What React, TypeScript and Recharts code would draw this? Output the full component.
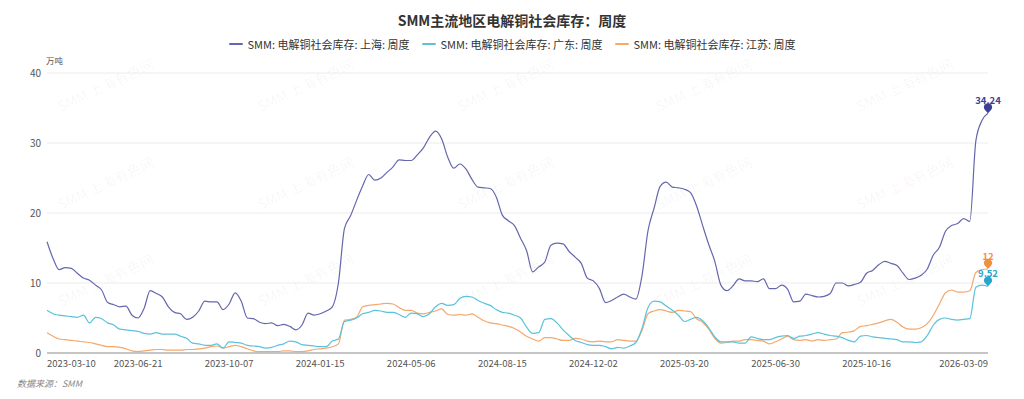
import React from "react";
import { LineChart, Line, XAxis, YAxis, CartesianGrid } from "recharts";

// weekly readings, 万吨
const shanghai = [
  15.9, 13.5, 11.9, 12.2, 12.1, 11.4, 10.7, 10.4, 9.7, 9.0,
  7.2, 6.9, 6.6, 6.7, 5.4, 5.0, 6.4, 8.9, 8.5, 8.0,
  6.6, 5.8, 5.6, 4.8, 5.1, 6.0, 7.4, 7.3, 7.3, 6.2,
  7.0, 8.6, 7.4, 5.0, 4.9, 4.4, 4.2, 4.3, 3.9, 4.1,
  3.8, 3.3, 4.0, 5.7, 5.4, 5.6, 6.0, 6.6, 10.0, 17.8,
  19.6, 21.8, 23.9, 25.5, 24.7, 25.0, 25.8, 26.6, 27.6, 27.5,
  27.5, 28.3, 29.3, 30.8, 31.7, 30.6, 28.0, 26.4, 27.0, 26.3,
  24.8, 23.7, 23.6, 23.5, 22.3, 19.7, 18.9, 18.2, 16.4, 14.6,
  11.6, 12.3, 13.0, 15.4, 15.7, 15.6, 14.5, 13.7, 12.8, 10.7,
  10.3, 9.2, 7.2, 7.5, 8.0, 8.4, 8.0, 7.7, 11.0, 17.5,
  20.7, 23.8, 24.4, 23.7, 23.6, 23.4, 22.9, 21.0, 18.2, 15.5,
  13.1, 9.7, 8.9, 9.6, 10.6, 10.3, 10.3, 10.2, 10.6, 9.2,
  9.2, 9.7, 9.1, 7.3, 7.4, 8.4, 8.2, 8.0, 8.1, 8.5,
  10.0, 10.0, 9.6, 9.8, 10.1, 11.4, 11.8, 12.6, 13.1, 12.8,
  12.5, 11.4, 10.5, 10.7, 11.1, 12.0, 14.0, 15.1, 17.4, 18.2,
  18.5, 19.2, 18.8, 30.3, 33.2, 34.24,
];

const guangdong = [
  6.1, 5.6, 5.4, 5.3, 5.2, 5.1, 5.4, 4.3, 5.1, 4.9,
  4.3, 4.0, 3.4, 3.3, 3.2, 3.1, 2.8, 2.7, 2.9, 2.7,
  2.7, 2.7, 2.4, 2.1, 1.4, 1.3, 1.1, 1.1, 1.3, 0.7,
  1.6, 1.5, 1.4, 1.1, 1.0, 0.9, 0.7, 0.8, 1.1, 1.3,
  1.7, 1.6, 1.2, 1.1, 1.0, 0.9, 0.9, 1.7, 2.0, 4.5,
  4.7, 5.0, 5.6, 5.8, 6.1, 6.0, 5.8, 5.8, 5.5, 5.1,
  5.7, 5.6, 5.2, 5.6, 6.6, 7.1, 6.8, 6.9, 7.8, 8.1,
  8.0, 7.5, 7.1, 6.8, 6.2, 5.8, 5.7, 5.4, 5.0, 3.7,
  2.8, 2.9, 4.8, 4.9, 4.3, 3.3, 2.5, 1.8, 1.5, 1.2,
  1.1, 1.1, 0.9, 0.6, 0.8, 0.7, 1.0, 1.5, 3.5, 6.5,
  7.4, 7.3, 6.7, 6.1, 5.4, 4.5, 4.8, 5.1, 4.6, 3.6,
  2.3, 1.6, 1.6, 1.6, 1.4, 1.4, 2.3, 2.1, 1.9, 1.9,
  2.2, 2.4, 2.5, 2.1, 2.4, 2.5, 2.7, 2.9, 2.7, 2.5,
  2.4, 2.2, 1.8, 1.6, 2.4, 2.5, 2.3, 2.2, 2.1, 2.0,
  1.9, 1.6, 1.6, 1.5, 1.6, 2.5, 4.0, 4.8, 5.0, 4.8,
  4.7, 4.8, 4.9, 9.4, 9.7, 9.52,
];

const jiangsu = [
  2.9, 2.4, 2.0, 1.9, 1.8, 1.7, 1.6, 1.5, 1.3, 1.1,
  0.9, 0.9, 0.8, 0.6, 0.3, 0.2, 0.3, 0.4, 0.5, 0.5,
  0.4, 0.4, 0.4, 0.5, 0.5, 0.6, 0.7, 0.9, 1.0, 0.7,
  0.9, 1.1, 0.9, 0.6, 0.3, 0.2, 0.2, 0.2, 0.2, 0.3,
  0.3, 0.2, 0.2, 0.3, 0.5, 0.6, 0.7, 0.9, 1.3, 4.7,
  4.8, 5.1, 6.6, 6.8, 6.9, 7.0, 7.1, 7.0, 6.5, 6.1,
  6.1, 5.7, 5.6, 5.8, 6.0, 6.3, 5.5, 5.4, 5.5, 5.4,
  5.6, 5.1, 4.6, 4.3, 4.2, 4.0, 3.8, 3.5, 3.0, 2.4,
  2.0, 1.7, 2.2, 2.2, 2.0, 1.8, 1.8, 2.1, 2.0, 1.7,
  1.6, 1.7, 1.6, 1.6, 1.9, 1.8, 1.7, 1.7, 3.2, 5.6,
  6.0, 6.2, 6.0, 5.8, 6.1, 6.0, 5.9, 4.9, 4.4, 3.4,
  2.1, 1.4, 1.5, 1.7, 1.7, 1.9, 1.9, 1.8, 1.7, 1.3,
  1.6, 2.0, 2.4, 1.9, 1.8, 1.9, 1.7, 1.9, 1.8, 1.9,
  2.0, 2.9, 3.0, 3.2, 3.8, 3.9, 4.1, 4.3, 4.6, 4.8,
  4.4, 3.7, 3.4, 3.4, 3.6, 4.2, 5.4, 7.0, 8.6, 9.0,
  8.7, 8.7, 8.9, 11.5, 11.9, 12.0,
];

const tickIndex = [0, 15, 30, 45, 60, 75, 90, 105, 120, 135, 155];
const tickLabels = [
  "2023-03-10", "2023-06-21", "2023-10-07", "2024-01-15", "2024-05-06",
  "2024-08-15", "2024-12-02", "2025-03-20", "2025-06-30", "2025-10-16",
  "2026-03-09",
];
const yTicks = [0, 10, 20, 30, 40];

const seriesNames = [
  "SMM: 电解铜社会库存: 上海: 周度",
  "SMM: 电解铜社会库存: 广东: 周度",
  "SMM: 电解铜社会库存: 江苏: 周度",
];

const SH = "#6567ad";
const GD = "#5cc2dc";
const JS = "#f4a86c";

const data = shanghai.map((v, i) => ({
  idx: i,
  sh: v,
  gd: guangdong[i],
  js: jiangsu[i],
}));

const FONT = '"Noto Sans CJK SC", "Noto Sans", sans-serif';
const last = shanghai.length - 1;

// faint watermark grid
const wmX = [108, 308, 508, 706, 907];
const wmY = [90, 188, 285];

function XTick(props: any) {
  const { x, y, payload } = props;
  const pos = tickIndex.indexOf(payload.value);
  const anchor =
    pos === 0 ? "start" : pos === tickIndex.length - 1 ? "end" : "middle";
  return (
    <text x={x} y={y + 14} textAnchor={anchor} fontSize={9.5} fill="#555">
      {tickLabels[pos]}
    </text>
  );
}

// pin + value label on the last point only
const endDot = (labelColor: string, text: string) => (props: any) => {
  const { cx, cy, index } = props;
  if (index !== last) return <g key={`d${index}`} />;
  return (
    <g key="end">
      <path
        d={`M${cx},${cy} L${cx - 3.2},${cy - 3.6} A4,4 0 1 1 ${cx + 3.2},${cy - 3.6} Z`}
        fill={labelColor}
      />
      <text
        x={cx}
        y={cy - 9.5}
        textAnchor="middle"
        fontSize={9.5}
        fontWeight="bold"
        fill={labelColor}
      >
        {text}
      </text>
    </g>
  );
};

function LegendRow() {
  const colors = [SH, GD, JS];
  return (
    <div
      style={{
        position: "absolute",
        top: 36,
        left: 0,
        width: 1024,
        display: "flex",
        justifyContent: "center",
        gap: 12,
        fontSize: 11,
        color: "#333",
      }}
    >
      {seriesNames.map((n, i) => (
        <div key={n} style={{ display: "flex", alignItems: "center", gap: 5 }}>
          <span
            style={{
              display: "inline-block",
              width: 14,
              height: 2,
              borderRadius: 1,
              background: colors[i],
            }}
          />
          <span>{n}</span>
        </div>
      ))}
    </div>
  );
}

export default function App() {
  return (
    <div
      style={{
        position: "relative",
        width: 1024,
        height: 399,
        fontFamily: FONT,
        background: "#fff",
        overflow: "hidden",
      }}
    >
      <style>{"body{margin:0}"}</style>
      <svg
        width={1024}
        height={399}
        style={{ position: "absolute", left: 0, top: 0, pointerEvents: "none" }}
      >
        {wmY.map((y) =>
          wmX.map((x) => (
            <text
              key={`${x}-${y}`}
              x={x}
              y={y}
              textAnchor="middle"
              fontSize={14}
              fill="#000"
              fillOpacity={0.045}
              transform={`rotate(-25 ${x} ${y})`}
            >
              SMM 上海有色网
            </text>
          ))
        )}
      </svg>
      <div
        style={{
          position: "absolute",
          top: 10,
          left: 0,
          width: 1024,
          textAlign: "center",
          fontSize: 14,
          fontWeight: "bold",
          color: "#333",
        }}
      >
        SMM主流地区电解铜社会库存：周度
      </div>
      <LegendRow />
      <div
        style={{
          position: "absolute",
          top: 54,
          left: 46,
          fontSize: 8.5,
          color: "#555",
        }}
      >
        万吨
      </div>
      <div style={{ position: "absolute", left: 0, top: 0 }}>
        <LineChart
          width={1024}
          height={399}
          data={data}
          margin={{ top: 73, right: 36, bottom: 16, left: 7 }}
        >
          <CartesianGrid vertical={false} stroke="#ececec" />
          <XAxis
            dataKey="idx"
            type="number"
            domain={[0, last]}
            ticks={tickIndex}
            interval={0}
            height={30}
            tickLine={false}
            tickSize={0}
            tickMargin={0}
            axisLine={{ stroke: "#b5b5b5", strokeWidth: 1.5 }}
            tick={<XTick />}
          />
          <YAxis
            domain={[0, 40]}
            ticks={yTicks}
            width={40}
            axisLine={false}
            tickLine={false}
            tickSize={0}
            tickMargin={6}
            tick={{ fontSize: 10, fill: "#555" }}
          />
          <Line
            type="monotone"
            dataKey="js"
            stroke={JS}
            strokeWidth={1.2}
            dot={endDot("#f08f3c", "12")}
            activeDot={false}
            isAnimationActive={false}
          />
          <Line
            type="monotone"
            dataKey="gd"
            stroke={GD}
            strokeWidth={1.2}
            dot={endDot("#27a6cb", "9.52")}
            activeDot={false}
            isAnimationActive={false}
          />
          <Line
            type="monotone"
            dataKey="sh"
            stroke={SH}
            strokeWidth={1.2}
            dot={endDot("#3c3f93", "34.24")}
            activeDot={false}
            isAnimationActive={false}
          />
        </LineChart>
      </div>
      <div
        style={{
          position: "absolute",
          top: 377,
          left: 17,
          fontSize: 9,
          fontStyle: "italic",
          color: "#888",
        }}
      >
        数据来源：SMM
      </div>
    </div>
  );
}
